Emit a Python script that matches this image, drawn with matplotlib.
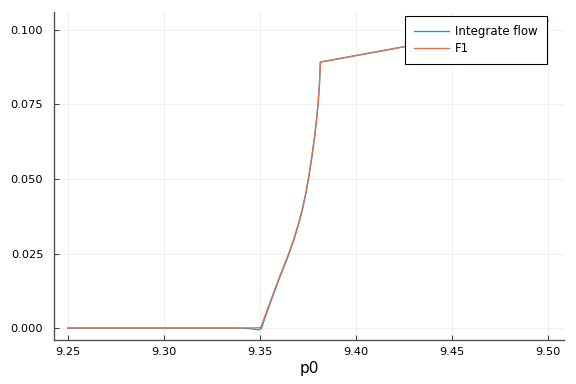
import matplotlib

matplotlib.use("Agg")
import matplotlib.pyplot as plt

# p0 sweep, values
p0_f1 = [9.25, 9.30, 9.34, 9.349, 9.3505, 9.3525, 9.3545, 9.357, 9.3595,
         9.362, 9.3648, 9.3675, 9.370, 9.372, 9.374, 9.3755, 9.377, 9.3785,
         9.3795, 9.3803, 9.3809, 9.3812, 9.3814, 9.40, 9.45, 9.50]
f1 = [0.0, 0.0, 0.0, 0.0001, 0.0003, 0.0039, 0.0074, 0.0118, 0.0161,
      0.0202, 0.0248, 0.0297, 0.0350, 0.0399, 0.0459, 0.0514, 0.0577, 0.0647,
      0.0704, 0.0759, 0.0814, 0.0855, 0.0892, 0.0914, 0.0973, 0.1031]

p0_flow = [9.25, 9.30, 9.34, 9.345, 9.349, 9.3507, 9.3525, 9.3545, 9.357,
           9.3595, 9.362, 9.3648, 9.3675, 9.370, 9.372, 9.374, 9.3755, 9.377,
           9.3785, 9.3795, 9.3803, 9.3809, 9.3812, 9.3814, 9.40, 9.45, 9.50]
flow = [0.0, 0.0, 0.0, -0.0002, -0.0006, -0.0002, 0.0033, 0.0069, 0.0113,
        0.0157, 0.0198, 0.0244, 0.0293, 0.0346, 0.0395, 0.0455, 0.0511, 0.0574,
        0.0644, 0.0702, 0.0757, 0.0812, 0.0854, 0.0892, 0.0914, 0.0973, 0.1031]

xticks = [9.25, 9.30, 9.35, 9.40, 9.45, 9.50]
yticks = [0.0, 0.025, 0.05, 0.075, 0.1]

BLUE = "#009AFA"
RED = "#E36F47"

fig = plt.figure(figsize=(6, 4), dpi=96)
ax = fig.add_axes([54 / 576, 1 - 340 / 384, 510 / 576, 328 / 384])
ax.plot(p0_flow, flow, color=BLUE, lw=1, label="Integrate flow")
ax.plot(p0_f1, f1, color=RED, lw=1, label="F1")

ax.set_xlim(9.2427, 9.5083)
ax.set_ylim(-0.004, 0.106)
ax.set_xticks(xticks)
ax.set_xticklabels([f"{v:.2f}" for v in xticks])
ax.set_yticks(yticks)
ax.set_yticklabels([f"{v:.3f}" for v in yticks])
ax.tick_params(direction="in", length=4, width=0.8, labelsize=8.5, color="0.25")
ax.tick_params(axis="y", pad=8)
ax.tick_params(axis="x", pad=5)
ax.grid(True, color="0.92", lw=0.6)
for s in ("top", "right"):
    ax.spines[s].set_visible(False)
for s in ("left", "bottom"):
    ax.spines[s].set_color("0.3")
    ax.spines[s].set_linewidth(1.0)
ax.set_xlabel("p0", fontsize=11.5, labelpad=3)

leg = ax.legend(loc="upper right", bbox_to_anchor=(547 / 576, 1 - 16 / 384),
                bbox_transform=fig.transFigure, fontsize=8.8, fancybox=False,
                framealpha=1, edgecolor="black", borderpad=0.8,
                handlelength=3.0, handletextpad=0.5, labelspacing=0.3,
                borderaxespad=0)
leg.get_frame().set_linewidth(0.8)

fig.savefig("out.png", dpi=96)
